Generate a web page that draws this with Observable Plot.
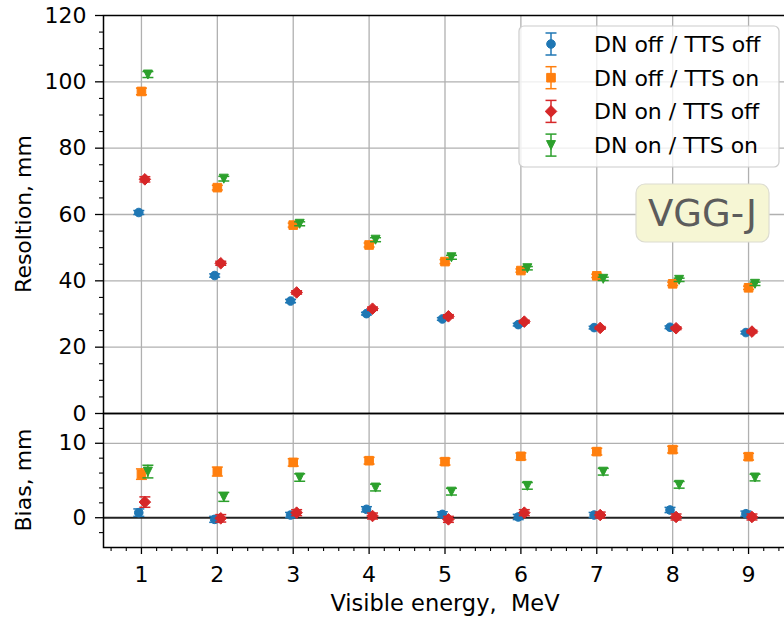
<!DOCTYPE html>
<html>
<head>
<meta charset="utf-8">
<script src="https://cdn.jsdelivr.net/npm/d3@7"></script>
<script src="https://cdn.jsdelivr.net/npm/@observablehq/plot@0.6"></script>
<style>
html, body { margin: 0; padding: 0; background: #fff; }
#chart { position: relative; width: 784px; height: 618px; overflow: hidden; background: #fff; font-family: "DejaVu Sans", sans-serif; }
#chart svg { position: absolute; left: 0; overflow: visible; max-width: none !important; }
</style>
</head>
<body>
<div id="chart"></div>
<script>
// ---- data ----
const energies = [1, 2, 3, 4, 5, 6, 7, 8, 9];
const seriesNames = ["DN off / TTS off", "DN off / TTS on", "DN on / TTS off", "DN on / TTS on"];
const seriesColors = ["#1f77b4", "#ff7f0e", "#d62728", "#2ca02c"];
const xOffsets = [-0.035, 0, 0.045, 0.085];

// Resolution, mm
const resOffOff = [60.6, 41.6, 33.9, 30.1, 28.5, 26.8, 25.9, 26.0, 24.4];
const resOffOn  = [97.1, 68.1, 56.8, 50.8, 45.8, 43.1, 41.5, 39.1, 37.9];
const resOnOff  = [70.6, 45.3, 36.5, 31.6, 29.3, 27.7, 25.8, 25.7, 24.7];
const resOnOn   = [102.2, 70.8, 57.2, 52.4, 47.1, 43.8, 40.6, 40.3, 39.1];
const resErrOffOff = [0.6, 0.5, 0.5, 0.4, 0.4, 0.4, 0.4, 0.4, 0.4];
const resErrOffOn  = [1.0, 0.7, 0.6, 0.6, 0.6, 0.5, 0.5, 0.5, 0.5];
const resErrOnOff  = [0.8, 0.6, 0.5, 0.5, 0.5, 0.4, 0.4, 0.4, 0.4];
const resErrOnOn   = [0.9, 0.7, 0.6, 0.6, 0.6, 0.5, 0.5, 0.5, 0.5];

// Bias, mm
const biasOffOff = [0.68, -0.22, 0.36, 1.13, 0.45, 0.1, 0.36, 1.04, 0.54];
const biasOffOn  = [5.86, 6.2, 7.43, 7.66, 7.53, 8.25, 8.88, 9.15, 8.2];
const biasOnOff  = [2.1, -0.08, 0.68, 0.23, -0.22, 0.68, 0.36, 0.1, 0.1];
const biasOnOn   = [6.2, 2.8, 5.4, 4.05, 3.5, 4.28, 6.18, 4.42, 5.4];
const biasErrOffOff = [0.5, 0.4, 0.35, 0.35, 0.35, 0.35, 0.35, 0.35, 0.35];
const biasErrOffOn  = [0.7, 0.6, 0.5, 0.45, 0.45, 0.45, 0.45, 0.45, 0.45];
const biasErrOnOff  = [0.7, 0.5, 0.4, 0.4, 0.4, 0.4, 0.4, 0.4, 0.4];
const biasErrOnOn   = [0.85, 0.6, 0.5, 0.45, 0.45, 0.45, 0.45, 0.45, 0.45];

const resTicks = [0, 20, 40, 60, 80, 100, 120];
const biasTicks = [0, 10];
const xLabel = "Visible energy,  MeV";
const resLabel = "Resoltion, mm";
const biasLabel = "Bias, mm";
const tag = "VGG-J";

// ---- build table ----
const resAll = [resOffOff, resOffOn, resOnOff, resOnOn];
const resErrAll = [resErrOffOff, resErrOffOn, resErrOnOff, resErrOnOn];
const biasAll = [biasOffOff, biasOffOn, biasOnOff, biasOnOn];
const biasErrAll = [biasErrOffOff, biasErrOffOn, biasErrOnOff, biasErrOnOn];
const rows = [];
seriesNames.forEach((name, s) => {
  energies.forEach((e, i) => {
    rows.push({s, name, x: e + xOffsets[s], res: resAll[s][i], resErr: resErrAll[s][i], bias: biasAll[s][i], biasErr: biasErrAll[s][i]});
  });
});

// ---- symbols ----
const capSym = {draw(c) { c.moveTo(-5.5, 0); c.lineTo(5.5, 0); }};
const squareSym = {draw(c) { const h = 4.3; c.moveTo(-h, -h); c.lineTo(h, -h); c.lineTo(h, h); c.lineTo(-h, h); c.closePath(); }};
const diamondSym = {draw(c) { const h = 5.8; c.moveTo(0, -h); c.lineTo(h, 0); c.lineTo(0, h); c.lineTo(-h, 0); c.closePath(); }};
const triDownSym = {draw(c) { const h = 4.5; c.moveTo(0, h); c.lineTo(-h, -h); c.lineTo(h, -h); c.closePath(); }};
const markerSyms = ["circle", squareSym, diamondSym, triDownSym];

function seriesMarks(key, errKey) {
  const out = [];
  seriesNames.forEach((name, s) => {
    const data = rows.filter(d => d.s === s);
    const color = seriesColors[s];
    out.push(
      Plot.ruleX(data, {x: "x", y1: d => d[key] - d[errKey], y2: d => d[key] + d[errKey], stroke: color, strokeWidth: 1.5}),
      Plot.dot(data, {x: "x", y: d => d[key] - d[errKey], symbol: capSym, r: 4, fill: "none", stroke: color, strokeWidth: 1.5}),
      Plot.dot(data, {x: "x", y: d => d[key] + d[errKey], symbol: capSym, r: 4, fill: "none", stroke: color, strokeWidth: 1.5}),
      Plot.dot(data, {x: "x", y: key, symbol: markerSyms[s], r: 4.3, fill: color, stroke: color, strokeWidth: 1})
    );
  });
  return out;
}

const gridStyle = {stroke: "#b0b0b0", strokeOpacity: 1, strokeWidth: 1.3};
const plotStyle = {fontFamily: "DejaVu Sans", fontSize: "22px", color: "black", background: "transparent", overflow: "visible", maxWidth: "none"};
const xDomain = [0.5, 9.5];

const resMinor = d3.range(0, 121, 5).filter(v => v % 20 !== 0);
const biasMinor = [-2, 2, 4, 6, 8, 12];
const xMinor = d3.range(6, 95, 2).map(v => v / 10).filter(v => Math.abs(v - Math.round(v)) > 1e-6);

// ---- top panel ----
const topPlot = Plot.plot({
  width: 788, height: 414,
  marginLeft: 103, marginRight: 2, marginTop: 15, marginBottom: 1,
  style: plotStyle,
  x: {domain: xDomain, axis: null},
  y: {domain: [0, 120]},
  marks: [
    Plot.gridX(energies, gridStyle),
    Plot.gridY([20, 40, 60, 80, 100], gridStyle),
    Plot.axisY(resTicks, {tickSize: 8, tickPadding: 9, fontSize: 22, strokeWidth: 1.3, label: null}),
    Plot.axisY(resMinor, {tickSize: 4, tickFormat: () => null, strokeWidth: 1.1, label: null}),
    ...seriesMarks("res", "resErr"),
    Plot.frame({stroke: "black", strokeWidth: 1.5})
  ]
});
topPlot.style.top = "0px";

// ---- bottom panel ----
const bottomPlot = Plot.plot({
  width: 788, height: 205,
  marginLeft: 103, marginRight: 2, marginTop: 0, marginBottom: 71,
  style: plotStyle,
  x: {domain: xDomain},
  y: {domain: [-4, 14]},
  marks: [
    Plot.gridX(energies, gridStyle),
    Plot.gridY([10], gridStyle),
    Plot.ruleY([0], {stroke: "#222", strokeWidth: 2}),
    Plot.axisY(biasTicks, {tickSize: 8, tickPadding: 9, fontSize: 22, strokeWidth: 1.3, label: null}),
    Plot.axisY(biasMinor, {tickSize: 4, tickFormat: () => null, strokeWidth: 1.1, label: null}),
    Plot.axisX(energies, {tickSize: 7, tickPadding: 12, fontSize: 22, strokeWidth: 1.3, label: null}),
    Plot.axisX(xMinor, {tickSize: 4, tickFormat: () => null, strokeWidth: 1.1, label: null}),
    ...seriesMarks("bias", "biasErr"),
    Plot.frame({stroke: "black", strokeWidth: 1.5})
  ]
});
bottomPlot.style.top = "413px";

const chart = document.getElementById("chart");
chart.appendChild(topPlot);
chart.appendChild(bottomPlot);

// ---- overlay: labels, legend, tag ----
const ov = d3.select(chart).append("svg")
  .attr("width", 784).attr("height", 618)
  .style("top", "0px")
  .attr("font-family", "DejaVu Sans");

ov.append("text").attr("transform", "translate(31,214) rotate(-90)")
  .attr("text-anchor", "middle").attr("font-size", 22).text(resLabel);
ov.append("text").attr("transform", "translate(31,480) rotate(-90)")
  .attr("text-anchor", "middle").attr("font-size", 22).text(biasLabel);
ov.append("text").attr("x", 445).attr("y", 611)
  .attr("text-anchor", "middle").attr("font-size", 22.5)
  .style("white-space", "pre").text(xLabel);

// legend
const lg = ov.append("g");
lg.append("rect").attr("x", 519).attr("y", 26).attr("width", 260).attr("height", 141)
  .attr("rx", 5).attr("fill", "white").attr("fill-opacity", 0.8).attr("stroke", "#cccccc").attr("stroke-width", 1.2);
const markerPaths = [
  d3.symbol(d3.symbolCircle, Math.PI * 4.3 * 4.3)(),
  d3.symbol(squareSym, 1)(),
  d3.symbol(diamondSym, 1)(),
  d3.symbol(triDownSym, 1)()
];
seriesNames.forEach((name, s) => {
  const cy = 44 + s * 33.7;
  const g = lg.append("g").attr("transform", `translate(551,${cy})`);
  const c = seriesColors[s];
  g.append("line").attr("x1", 0).attr("x2", 0).attr("y1", -11).attr("y2", 11).attr("stroke", c).attr("stroke-width", 1.5);
  g.append("line").attr("x1", -5.5).attr("x2", 5.5).attr("y1", -11).attr("y2", -11).attr("stroke", c).attr("stroke-width", 1.5);
  g.append("line").attr("x1", -5.5).attr("x2", 5.5).attr("y1", 11).attr("y2", 11).attr("stroke", c).attr("stroke-width", 1.5);
  g.append("path").attr("d", markerPaths[s]).attr("fill", c).attr("stroke", c).attr("stroke-width", 1);
  lg.append("text").attr("x", 594).attr("y", cy + 8).attr("font-size", 22).attr("fill", "black").text(name);
});

// tag box
ov.append("rect").attr("x", 636).attr("y", 184).attr("width", 133).attr("height", 58).attr("rx", 9)
  .attr("fill", "#f6f6d4").attr("stroke", "#dcdcd0").attr("stroke-width", 1.2);
ov.append("text").attr("x", 702.5).attr("y", 226).attr("text-anchor", "middle")
  .attr("font-size", 37).attr("fill", "#5c5c5c").text(tag);
</script>
</body>
</html>
